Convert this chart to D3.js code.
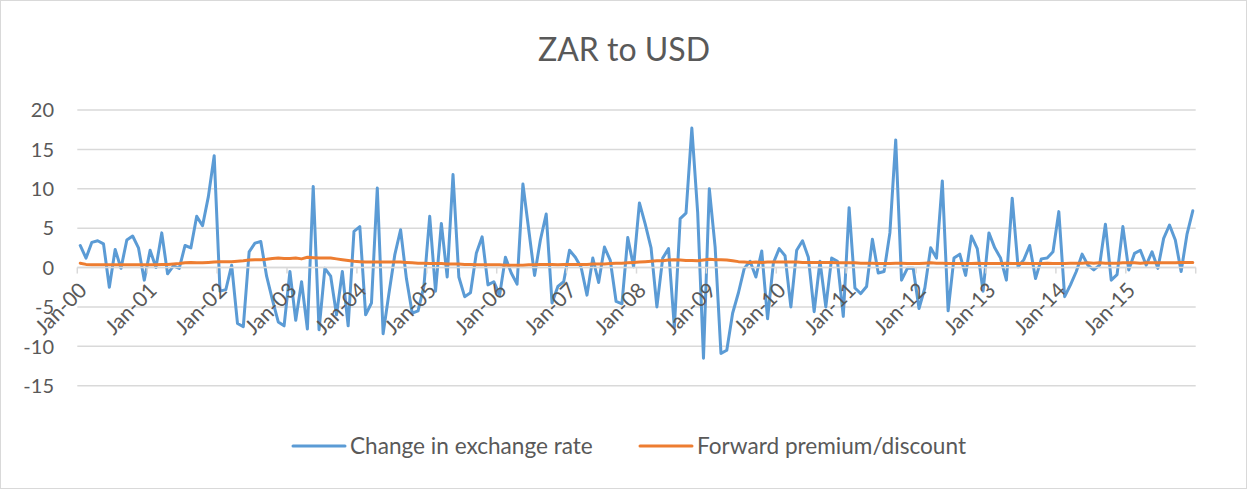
<!DOCTYPE html>
<html>
<head>
<meta charset="utf-8">
<script src="https://cdn.jsdelivr.net/npm/d3@7"></script>
<style>
    body { margin: 0; background: #fff; }
    svg { display: block; }
    text { font-family: Lato, "Open Sans", sans-serif; fill: #595959; }
</style>
</head>
<body>
<svg id="chartSVG" width="1247" height="489"></svg>
<script>
// monthly, Jan-00 .. Dec-15
const startYear = 2000;
const endYear = 2015;

const tickValues = [-15, -10, -5, 0, 5, 10, 15, 20];

const changeInRate = [
    2.8, 1.2, 3.2, 3.4, 3.0, -2.5, 2.3, -0.1, 3.5, 4.0, 2.5, -1.6,
    2.2, 0.0, 4.4, -0.8, 0.2, -0.1, 2.8, 2.5, 6.5, 5.3, 9.0, 14.2,
    -3.0, -2.8, 0.3, -7.1, -7.5, 2.0, 3.1, 3.3, -1.1, -4.1, -6.9, -7.4,
    -0.5, -6.7, -1.8, -7.8, 10.3, -7.9, -0.1, -1.1, -6.0, -0.5, -7.4, 4.6,
    5.2, -6.0, -4.5, 10.1, -8.4, -3.3, 1.6, 4.8, -1.4, -5.8, -5.5, -2.4,
    6.5, -3.0, 5.6, -1.2, 11.8, -1.2, -3.7, -3.2, 1.8, 3.9, -2.2, -1.8,
    -3.5, 1.3, -0.7, -2.1, 10.6, 4.8, -1.0, 3.5, 6.8, -4.5, -2.4, -1.8,
    2.2, 1.3, 0.0, -3.5, 1.2, -1.9, 2.6, 0.9, -4.3, -4.6, 3.8, 0.1,
    8.2, 5.5, 2.5, -5.0, 1.2, 2.4, -7.6, 6.2, 6.9, 17.7, 7.0, -11.5,
    10.0, 2.6, -10.9, -10.5, -5.8, -3.2, -0.1, 0.8, -1.2, 2.1, -6.5, 0.6,
    2.4, 1.5, -5.0, 2.2, 3.4, 1.3, -5.6, 0.8, -5.0, 1.2, 0.8, -6.2,
    7.6, -2.6, -3.3, -2.4, 3.6, -0.7, -0.5, 4.4, 16.2, -1.6, -0.1, -0.1,
    -5.2, -2.6, 2.5, 1.2, 11.0, -5.5, 1.2, 1.7, -1.0, 4.0, 2.4, -3.0,
    4.4, 2.5, 1.2, -1.6, 8.8, 0.1, 1.0, 2.8, -1.4, 1.1, 1.2, 2.0,
    7.1, -3.7, -2.2, -0.5, 1.7, 0.3, -0.3, 0.3, 5.5, -1.6, -0.9, 5.2,
    -0.3, 1.8, 2.2, 0.3, 2.0, -0.1, 3.7, 5.4, 3.5, -0.5, 4.2, 7.2
];

const forwardPremium = [
    0.55, 0.4, 0.35, 0.35, 0.35, 0.35, 0.35, 0.35, 0.35, 0.35, 0.35, 0.35,
    0.35, 0.35, 0.4, 0.4, 0.45, 0.5, 0.6, 0.65, 0.6, 0.6, 0.65, 0.7,
    0.75, 0.75, 0.75, 0.8, 0.85, 0.95, 1.0, 1.0, 1.05, 1.15, 1.2, 1.15,
    1.15, 1.2, 1.1, 1.3, 1.25, 1.2, 1.2, 1.2, 1.1, 1.0, 0.9, 0.8,
    0.75, 0.7, 0.7, 0.7, 0.7, 0.7, 0.7, 0.7, 0.65, 0.6, 0.55, 0.55,
    0.5, 0.5, 0.5, 0.45, 0.45, 0.45, 0.4, 0.4, 0.35, 0.35, 0.35, 0.35,
    0.35, 0.3, 0.3, 0.3, 0.3, 0.35, 0.35, 0.4, 0.4, 0.4, 0.35, 0.4,
    0.4, 0.4, 0.4, 0.4, 0.45, 0.45, 0.45, 0.5, 0.55, 0.55, 0.6, 0.65,
    0.7, 0.75, 0.8, 0.85, 0.85, 0.95, 1.0, 0.95, 0.9, 0.9, 0.85, 0.95,
    1.05, 1.0, 1.0, 0.95, 0.85, 0.75, 0.7, 0.65, 0.7, 0.65, 0.7, 0.7,
    0.7, 0.7, 0.7, 0.7, 0.65, 0.65, 0.65, 0.65, 0.65, 0.65, 0.6, 0.6,
    0.6, 0.6, 0.55, 0.55, 0.55, 0.5, 0.5, 0.5, 0.55, 0.55, 0.5, 0.5,
    0.5, 0.55, 0.6, 0.55, 0.55, 0.5, 0.5, 0.5, 0.5, 0.5, 0.55, 0.5,
    0.5, 0.5, 0.5, 0.55, 0.5, 0.5, 0.55, 0.5, 0.5, 0.5, 0.55, 0.5,
    0.5, 0.5, 0.55, 0.55, 0.55, 0.6, 0.55, 0.6, 0.55, 0.55, 0.55, 0.6,
    0.6, 0.6, 0.55, 0.6, 0.6, 0.6, 0.6, 0.6, 0.6, 0.65, 0.65, 0.65
];

const seriesNames = ["Change in exchange rate", "Forward premium/discount"];
const seriesColors = ["#5B9BD5", "#ED7D31"];

// category labels like Jan-00, Feb-00 ...
const months = d3.timeMonth.range(new Date(startYear, 0, 1), new Date(endYear + 1, 0, 1));
const categories = months.map(d3.timeFormat("%b-%y"));

const plot = {left: 77.3, right: 1195.7, top: 110, bottom: 385.7};

const svg = d3.select("#chartSVG");
const width = +svg.attr("width");
const height = +svg.attr("height");

svg.append("rect")
    .attr("x", 0.5).attr("y", 0.5)
    .attr("width", width - 1).attr("height", height - 1)
    .attr("fill", "#fff")
    .attr("stroke", "#d9d9d9");

const x = d3.scaleBand()
    .domain(categories)
    .range([plot.left, plot.right]);
const xc = d => x(d) + x.bandwidth() / 2;

const y = d3.scaleLinear()
    .domain([-15, 20])
    .range([plot.bottom, plot.top]);

// horizontal gridlines
svg.append("g")
    .selectAll("line")
    .data(tickValues)
    .join("line")
    .attr("x1", plot.left)
    .attr("x2", plot.right)
    .attr("y1", d => y(d))
    .attr("y2", d => y(d))
    .attr("stroke", "#d9d9d9")
    .attr("stroke-width", 1.5);

// y labels
svg.append("g")
    .style("font-size", "20px")
    .selectAll("text")
    .data(tickValues)
    .join("text")
    .attr("x", 54)
    .attr("y", d => y(d))
    .attr("dy", "0.36em")
    .attr("text-anchor", "end")
    .text(d => d);

// category axis sits on zero
const yearStarts = categories.filter((c, i) => i % 12 === 0);
const axisG = svg.append("g");
axisG.append("line")
    .attr("x1", plot.left).attr("x2", plot.right)
    .attr("y1", y(0)).attr("y2", y(0))
    .attr("stroke", "#d9d9d9")
    .attr("stroke-width", 1.5);
axisG.selectAll(".tick")
    .data(yearStarts.concat([null]))
    .join("line")
    .attr("class", "tick")
    .attr("x1", d => d === null ? plot.right : x(d))
    .attr("x2", d => d === null ? plot.right : x(d))
    .attr("y1", y(0))
    .attr("y2", y(0) + 6)
    .attr("stroke", "#d9d9d9")
    .attr("stroke-width", 1.5);

const lineGen = d3.line()
    .x((d, i) => xc(categories[i]))
    .y(d => y(d));

[changeInRate, forwardPremium].forEach(function (series, k) {
    svg.append("path")
        .datum(series)
        .attr("fill", "none")
        .attr("stroke", seriesColors[k])
        .attr("stroke-width", 3)
        .attr("stroke-linejoin", "round")
        .attr("stroke-linecap", "round")
        .attr("d", lineGen);
});

// rotated year labels, drawn over the lines like excel does
axisG.raise();
axisG.append("g")
    .style("font-size", "21px")
    .selectAll("text")
    .data(yearStarts)
    .join("text")
    .attr("text-anchor", "end")
    .attr("transform", d => `translate(${xc(d) + 8},${y(0) + 24}) rotate(-45)`)
    .text(d => d);

// title
svg.append("text")
    .attr("x", 624)
    .attr("y", 61)
    .attr("text-anchor", "middle")
    .style("font-size", "32px")
    .text("ZAR to USD");

// legend
const legendItems = [
    {name: seriesNames[0], color: seriesColors[0], x: 293},
    {name: seriesNames[1], color: seriesColors[1], x: 640}
];
const legend = svg.append("g")
    .selectAll("g")
    .data(legendItems)
    .join("g")
    .attr("transform", d => `translate(${d.x},446)`);
legend.append("line")
    .attr("x1", 0).attr("x2", 52)
    .attr("stroke", d => d.color)
    .attr("stroke-width", 3)
    .attr("stroke-linecap", "round");
legend.append("text")
    .attr("x", 57)
    .attr("dy", "0.36em")
    .style("font-size", "22.6px")
    .text(d => d.name);
</script>
</body>
</html>
